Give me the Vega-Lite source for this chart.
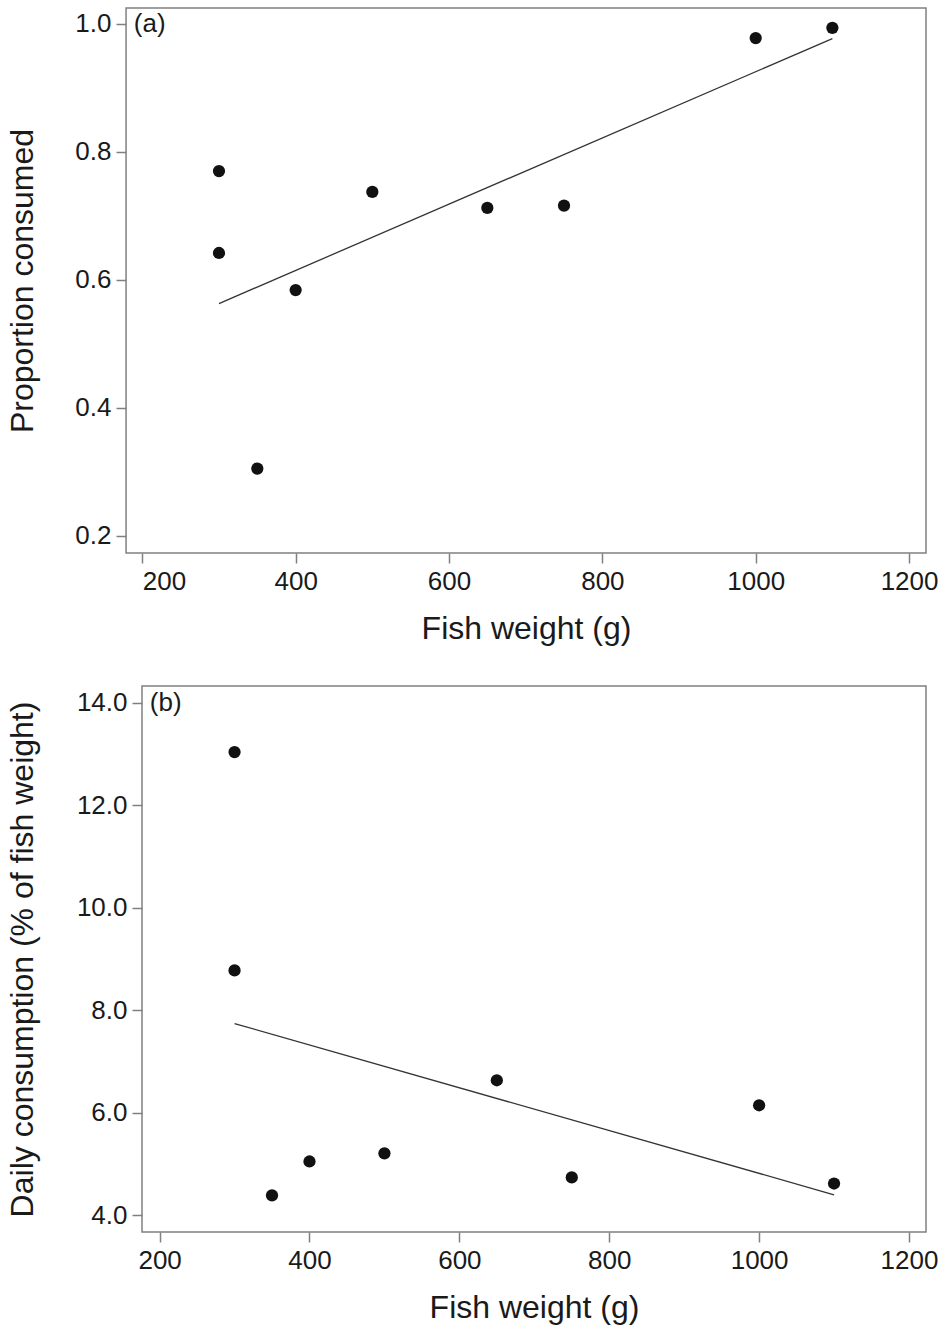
{
  "$schema": "https://vega.github.io/schema/vega-lite/v6.json",
  "padding": {"left": 5, "top": 7, "right": 2, "bottom": 5},
  "background": "white",
  "config": {
    "font": "Liberation Sans",
    "view": {"stroke": "#808080", "strokeWidth": 1.5},
    "axis": {
      "grid": false,
      "domain": false,
      "tickColor": "#808080",
      "tickSize": 10,
      "tickWidth": 1.5,
      "labelFontSize": 26,
      "labelColor": "#1a1a1a",
      "labelPadding": 5,
      "titleFontSize": 32,
      "titleFontWeight": "normal",
      "titleColor": "#1a1a1a"
    }
  },
  "spacing": 41,
  "datasets": {
    "a": [
      {"weight": 300, "proportion": 0.770},
      {"weight": 300, "proportion": 0.642},
      {"weight": 350, "proportion": 0.305},
      {"weight": 400, "proportion": 0.584},
      {"weight": 500, "proportion": 0.7375},
      {"weight": 650, "proportion": 0.7125},
      {"weight": 750, "proportion": 0.716},
      {"weight": 1000, "proportion": 0.978},
      {"weight": 1100, "proportion": 0.994}
    ],
    "b": [
      {"weight": 300, "consumption": 13.04},
      {"weight": 300, "consumption": 8.78},
      {"weight": 350, "consumption": 4.39},
      {"weight": 400, "consumption": 5.05},
      {"weight": 500, "consumption": 5.21},
      {"weight": 650, "consumption": 6.635},
      {"weight": 750, "consumption": 4.74},
      {"weight": 1000, "consumption": 6.147},
      {"weight": 1100, "consumption": 4.62}
    ]
  },
  "vconcat": [
    {
      "width": 784,
      "height": 545,
      "view": {"stroke": null},
      "layer": [
        {
          "data": {"values": [{"frame": "a"}]},
          "mark": {"type": "rect", "fill": null, "stroke": "#808080", "strokeWidth": 1.5, "clip": false},
          "encoding": {
            "x": {"datum": 178.8},
            "x2": {"datum": 1222.1},
            "y": {"datum": 0.173},
            "y2": {"datum": 1.025}
          }
        },
        {
          "data": {"name": "a"},
          "mark": {"type": "circle", "size": 150, "color": "#111111", "opacity": 1},
          "encoding": {
            "x": {
              "field": "weight", "type": "quantitative",
              "scale": {"domain": [199.6, 1222.1], "nice": false, "zero": false},
              "axis": {"values": [200, 400, 600, 800, 1000, 1200], "format": "d", "title": "Fish weight (g)", "titlePadding": 19, "titleX": 384}
            },
            "y": {
              "field": "proportion", "type": "quantitative",
              "scale": {"domain": [0.173, 1.025], "nice": false, "zero": false},
              "axis": {"values": [0.2, 0.4, 0.6, 0.8, 1.0], "format": ".1f", "title": "Proportion consumed", "titlePadding": 35, "offset": 16}
            }
          }
        },
        {
          "data": {"name": "a"},
          "transform": [{"regression": "proportion", "on": "weight", "extent": [300, 1100]}],
          "mark": {"type": "line", "color": "#333333", "strokeWidth": 1.3},
          "encoding": {
            "x": {"field": "weight", "type": "quantitative"},
            "y": {"field": "proportion", "type": "quantitative"}
          }
        },
        {
          "data": {"values": [{"panel": "(a)"}]},
          "mark": {"type": "text", "align": "left", "baseline": "middle", "fontSize": 26, "color": "#1a1a1a", "clip": false},
          "encoding": {
            "x": {"datum": 189},
            "y": {"datum": 1.0},
            "text": {"field": "panel"}
          }
        }
      ]
    },
    {
      "width": 784,
      "height": 546,
      "layer": [
        {
          "data": {"name": "b"},
          "mark": {"type": "circle", "size": 150, "color": "#111111", "opacity": 1},
          "encoding": {
            "x": {
              "field": "weight", "type": "quantitative",
              "scale": {"domain": [176.5, 1222.7], "nice": false, "zero": false},
              "axis": {"values": [200, 400, 600, 800, 1000, 1200], "format": "d", "title": "Fish weight (g)", "titlePadding": 19}
            },
            "y": {
              "field": "consumption", "type": "quantitative",
              "scale": {"domain": [3.674, 14.33], "nice": false, "zero": false},
              "axis": {"values": [4, 6, 8, 10, 12, 14], "format": ".1f", "title": "Daily consumption (% of fish weight)", "titlePadding": 37}
            }
          }
        },
        {
          "data": {"name": "b"},
          "transform": [{"regression": "consumption", "on": "weight", "extent": [300, 1100]}],
          "mark": {"type": "line", "color": "#333333", "strokeWidth": 1.3},
          "encoding": {
            "x": {"field": "weight", "type": "quantitative"},
            "y": {"field": "consumption", "type": "quantitative"}
          }
        },
        {
          "data": {"values": [{"panel": "(b)"}]},
          "mark": {"type": "text", "align": "left", "baseline": "middle", "fontSize": 26, "color": "#1a1a1a"},
          "encoding": {
            "x": {"datum": 187},
            "y": {"datum": 14.0},
            "text": {"field": "panel"}
          }
        }
      ]
    }
  ]
}
